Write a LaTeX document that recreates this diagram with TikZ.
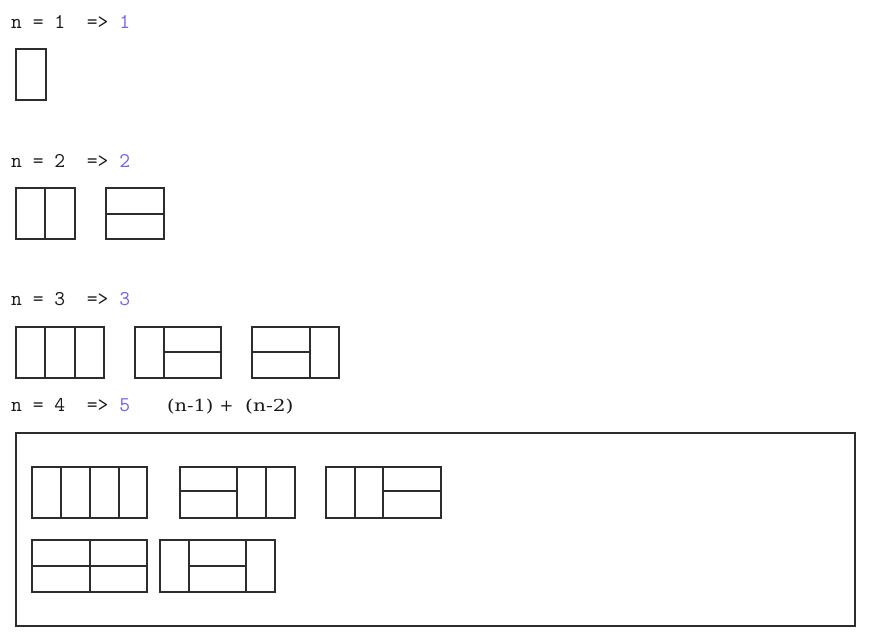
\documentclass[tikz,border=0pt]{standalone}
\usepackage{fontspec}
\newfontfamily\serf{DejaVu Serif}
\definecolor{num}{RGB}{118,98,232}
\definecolor{ink}{RGB}{25,25,25}
\definecolor{edge}{RGB}{45,45,45}
\begin{document}
\begin{tikzpicture}[x=1pt,y=-1pt,
  lbl/.style={anchor=base west,inner sep=0pt,text=ink,font=\ttfamily\fontsize{21}{23}\selectfont},
  frm/.style={anchor=base west,inner sep=0pt,text=ink,font=\serf\fontsize{16.5}{18}\selectfont},
  tile/.style={draw=edge,line width=1.2pt}]
\useasboundingbox (0,0) rectangle (872,640);
% labels
\node[lbl] (l1) at (11,28.5) {n~=~1~~=>~\textcolor{num}{1}};
\node[lbl] (l2) at (11,167.5) {n~=~2~~=>~\textcolor{num}{2}};
\node[lbl] (l3) at (11,305) {n~=~3~~=>~\textcolor{num}{3}};
\node[lbl] (l4) at (11,411.5) {n~=~4~~=>~\textcolor{num}{5}};
\node[frm] (f4a) at (167,411.5) {\scalebox{1.17}[1]{(n-1)}};
\node[frm] (f4b) at (219.5,411.5) {+};
\node[frm] (f4c) at (245,411.5) {\scalebox{1.22}[1]{(n-2)}};
% n = 1
\draw[tile] (16,49) rectangle (46,100);
% n = 2
\draw[tile] (16,188) rectangle (75,239) (45,188) -- (45,239);
\draw[tile] (106,188) rectangle (164,239) (106,214) -- (164,214);
% n = 3
\draw[tile] (16,327) rectangle (104,378) (45,327) -- (45,378) (75,327) -- (75,378);
\draw[tile] (135,327) rectangle (221,378) (164,327) -- (164,378) (164,352) -- (221,352);
\draw[tile] (252,327) rectangle (339,378) (310,327) -- (310,378) (252,352) -- (310,352);
% n = 4 frame
\draw[tile] (16,433) rectangle (855,626);
% row 1
\draw[tile] (32,467) rectangle (147,518) (61,467) -- (61,518) (90,467) -- (90,518) (119,467) -- (119,518);
\draw[tile] (180,467) rectangle (295,518) (237,467) -- (237,518) (266,467) -- (266,518) (180,491) -- (237,491);
\draw[tile] (326,467) rectangle (441,518) (355,467) -- (355,518) (383,467) -- (383,518) (383,491) -- (441,491);
% row 2
\draw[tile] (32,540) rectangle (147,592) (90,540) -- (90,592) (32,566) -- (147,566);
\draw[tile] (160,540) rectangle (275,592) (189,540) -- (189,592) (246,540) -- (246,592) (189,566) -- (246,566);
\end{tikzpicture}
\end{document}
